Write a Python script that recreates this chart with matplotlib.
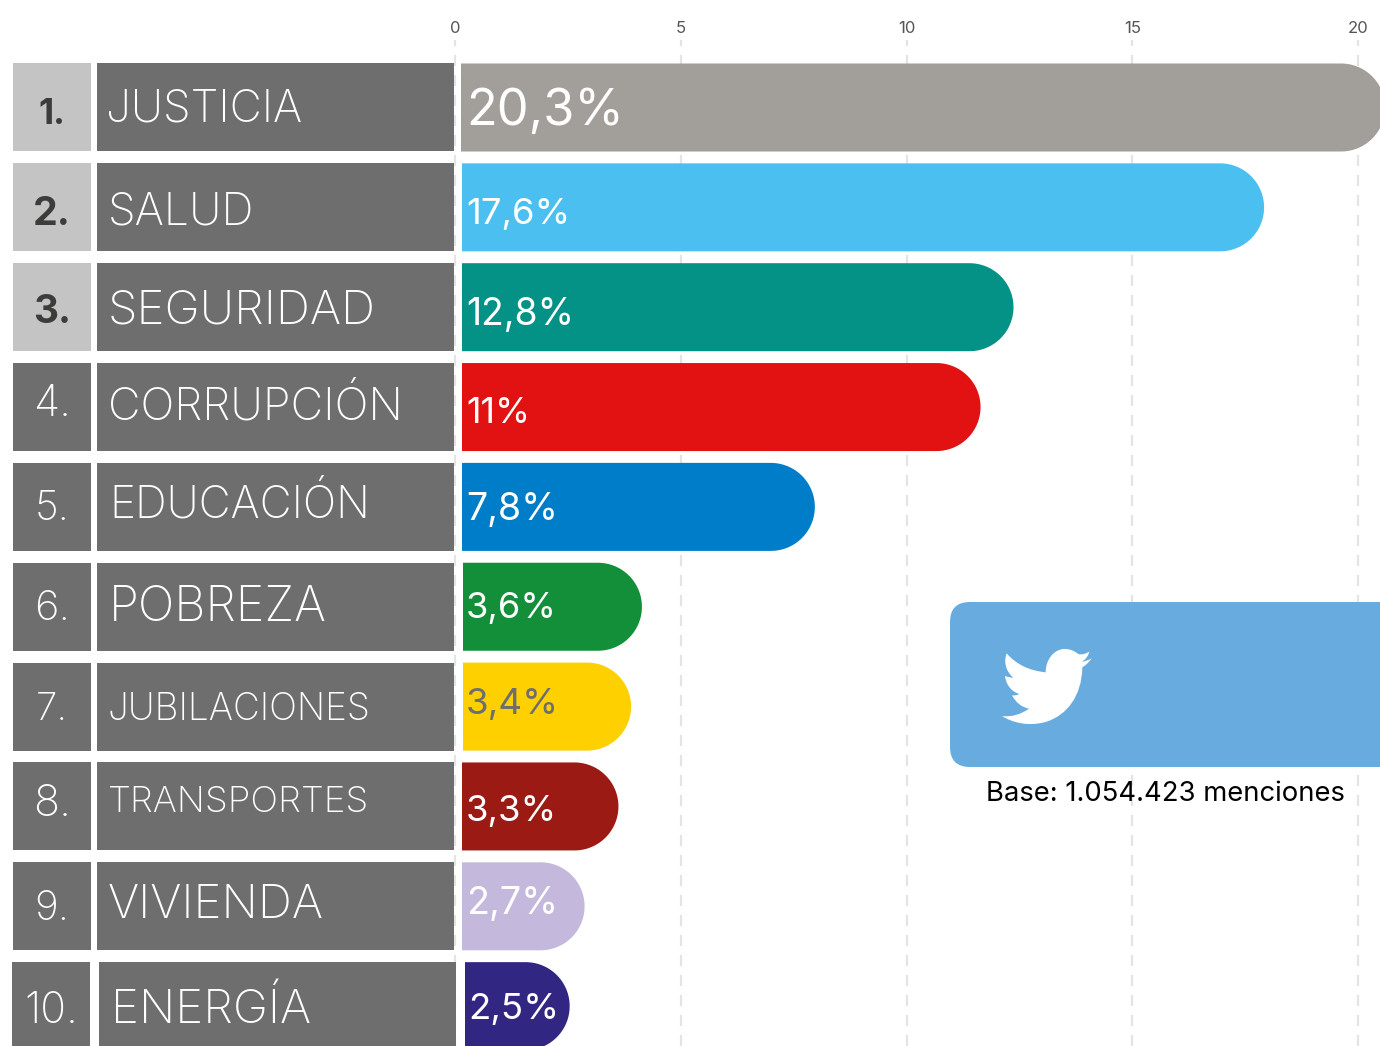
import numpy as np
import matplotlib
matplotlib.use('Agg')
import matplotlib.pyplot as plt
from matplotlib.patches import FancyBboxPatch, PathPatch
from matplotlib.path import Path
from matplotlib.transforms import IdentityTransform

plt.rcParams['font.family'] = ['Inter', 'DejaVu Sans']

W, H = 1380, 1046

# data
topics = ['JUSTICIA', 'SALUD', 'SEGURIDAD', 'CORRUPCIÓN', 'EDUCACIÓN',
          'POBREZA', 'JUBILACIONES', 'TRANSPORTES', 'VIVIENDA', 'ENERGÍA']
shares = [20.3, 17.6, 12.8, 11, 7.8, 3.6, 3.4, 3.3, 2.7, 2.5]
# where the bars really end on the axis (not the same as the printed share)
bar_ends = [20.6, 17.92, 12.37, 11.64, 7.97, 4.14, 3.9, 3.62, 2.87, 2.54]
ticks = [0, 5, 10, 15, 20]
colors = ['#A29E9A', '#4BC0F0', '#049186', '#E31212', '#007DC8',
          '#138F3A', '#FFD000', '#9C1A14', '#C4B9DC', '#312783']

# layout, in pixels of the image
X0, PX_UNIT = 455, 45.15
Y0, PX_ROW = 107.5, 99.85
AX_TOP = 40
bar_left = [461, 462, 462, 462, 462, 463, 463, 462, 462, 465]
rank_box = [(13, 91)] * 9 + [(12, 90)]
label_box = [(97, 454)] * 9 + [(99, 456)]
label_x = [106, 108, 108, 108, 109, 109, 107, 108, 108, 111]
label_base = [122, 225, 324, 420, 518, 621, 720, 812, 918, 1023]
label_w = [196, 146, 268, 295, 261, 218, 263, 261, 216, 200]
rank_x = [38, 33, 33, 33, 35, 34, 36, 33, 34, 24]
rank_base = [124, 225, 323, 416, 520, 620, 720, 816, 920, 1023]
rank_w = [27, 38, 38, 38, 35, 36, 32, 38, 35, 54]
value_x = [466] * 9 + [468]
value_base = [125, 224, 325, 423, 520, 618, 714, 821, 914, 1019]
value_w = [158, 104, 108, 64, 92, 91, 93, 91, 92, 91]


def xd(px):
    return (px - X0) / PX_UNIT


def yd(py):
    return (py - Y0) / PX_ROW


def fit(t, width):
    # scale the font so the text gets the wanted pixel width
    bb = t.get_window_extent(renderer)
    t.set_fontsize(t.get_fontsize() * width / bb.width)


fig = plt.figure(figsize=(W / 100, H / 100), dpi=100)
ax = fig.add_axes([0, 0, 1, (H - AX_TOP) / H])
renderer = fig.canvas.get_renderer()
ax.set_xlim(xd(0), xd(W))
ax.set_ylim(yd(H), yd(AX_TOP))
for s in ax.spines.values():
    s.set_visible(False)
ax.set_yticks([])
ax.xaxis.tick_top()
ax.set_xticks(ticks)
ax.tick_params(axis='x', length=0, pad=3, labelsize=12, labelcolor='#555555')
ax.grid(axis='x', color='#E4E4E4', lw=1.6, ls=(0, (5, 4)))
ax.set_axisbelow(True)

rows = np.arange(len(topics))
h = 88 / PX_ROW
rx = 44 / PX_UNIT
theta = np.linspace(-np.pi / 2, np.pi / 2, 60)

for i in rows:
    # rank box and topic box
    a, b = rank_box[i]
    ax.barh(i, (b - a) / PX_UNIT, left=xd(a), height=h,
            color='#C4C4C4' if i < 3 else '#6E6E6E')
    a, b = label_box[i]
    ax.barh(i, (b - a) / PX_UNIT, left=xd(a), height=h, color='#6E6E6E')

    # bar with a round end
    left = xd(bar_left[i])
    xs = np.r_[left, bar_ends[i] - rx + rx * np.cos(theta), left]
    ys = np.r_[i - h / 2, i + h / 2 * np.sin(theta), i + h / 2]
    ax.fill(xs, ys, color=colors[i], lw=0)

    t = ax.text(xd(label_x[i]), yd(label_base[i]), topics[i], color='white',
                va='baseline', ha='left', fontsize=28, fontweight='light')
    fit(t, label_w[i])

    rank = ax.text(xd(rank_x[i]), yd(rank_base[i]), '%d.' % (i + 1), va='baseline',
                   ha='left', fontsize=28,
                   color='#3C3C3B' if i < 3 else 'white',
                   fontweight='bold' if i < 3 else 'light')
    fit(rank, rank_w[i])

    lab = '%g%%' % shares[i]
    v = ax.text(xd(value_x[i]), yd(value_base[i]), lab.replace('.', ','), va='baseline',
                ha='left', fontsize=28, fontweight='normal',
                color='#6E6E6E' if i == 6 else 'white')
    fit(v, value_w[i])

# twitter box, in display pixels
disp = IdentityTransform()
box = FancyBboxPatch((950, H - 767), 500, 165, boxstyle='round,pad=0,rounding_size=20',
                     fc='#68ACDF', ec='none', transform=disp, zorder=4)
fig.add_artist(box)

bird = [(328, 65), (315, 72), (305, 75), (295, 72),
        (280, 60), (265, 56), (250, 57),
        (220, 60), (197, 90), (197, 127),
        (150, 122), (110, 105), (80, 70),
        (70, 95), (78, 125), (100, 143),
        (92, 143), (83, 141), (75, 138),
        (78, 165), (95, 185), (118, 192),
        (110, 196), (103, 197), (96, 196),
        (108, 218), (125, 232), (147, 236),
        (125, 252), (95, 262), (66, 258),
        (100, 280), (150, 290), (200, 275),
        (260, 255), (305, 200), (307, 112),
        (318, 105), (328, 96), (335, 85),
        (325, 91), (315, 94), (306, 95),
        (317, 88), (325, 78), (328, 65)]
verts = [(980 + x / 3, H - (630 + y / 3)) for x, y in bird]
codes = [Path.MOVETO] + [Path.CURVE4] * (len(verts) - 1)
fig.add_artist(PathPatch(Path(verts, codes), fc='white', ec='none', transform=disp, zorder=5))

base = ax.text(xd(986), yd(801), 'Base: 1.054.423 menciones', color='black',
               va='baseline', ha='left', fontsize=19)
fit(base, 359)

fig.savefig('out.png', dpi=100)
